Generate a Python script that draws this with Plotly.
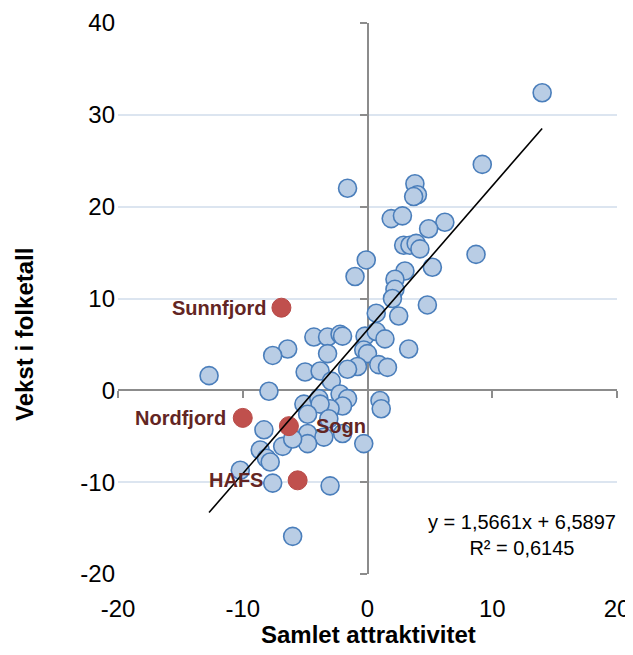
import plotly.graph_objects as go

# ---- data ----
blue_x = [14.0, 9.2, -1.6, 3.8, 4.0, 3.7, 1.9, 2.8, 6.2, 4.9, 2.9, 3.4, 3.9, 4.2, 8.7, 5.2,
          -0.1, -1.0, 3.0, 2.2, 2.2, 2.0, 4.8, 2.5, 0.7, -0.2, 0.7, 1.4, 3.3, -0.3, 0.0, -0.8,
          0.9, 1.6, -4.3, -3.2, -2.2, -2.0, -3.2, -6.4, -7.6, -5.0, -3.8, -2.9, -1.6, -12.7,
          -7.9, -8.3, -8.6, -8.1, -7.8, -6.8, -10.2, -7.6, -3.0, -6.0, -5.1, -3.9, -2.2, -1.6,
          -2.0, -3.0, -3.8, -4.8, -3.1, -4.8, -3.5, -2.0, -4.8, -6.0, -0.3, 1.0, 1.1]
blue_y = [32.4, 24.6, 22.0, 22.5, 21.3, 21.1, 18.7, 19.0, 18.3, 17.6, 15.8, 15.8, 16.0, 15.4, 14.8, 13.4,
          14.2, 12.4, 13.0, 12.1, 11.0, 10.0, 9.3, 8.1, 8.4, 5.9, 6.4, 5.6, 4.5, 4.4, 4.0, 2.6,
          2.8, 2.5, 5.8, 5.8, 6.1, 5.9, 4.0, 4.5, 3.8, 2.0, 2.1, 1.0, 2.3, 1.6,
          -0.1, -4.3, -6.5, -7.4, -7.8, -6.1, -8.7, -10.1, -10.4, -15.9, -1.5, -0.9, -0.4, -0.9,
          -1.7, -2.0, -1.5, -2.6, -3.1, -4.7, -5.1, -4.7, -5.8, -5.3, -5.8, -1.1, -2.0]

red_names = ["Sunnfjord", "Nordfjord", "Sogn", "HAFS"]
red_x = [-6.9, -10.0, -6.3, -5.6]
red_y = [9.0, -3.0, -3.9, -9.8]

slope = 1.5661
intercept = 6.5897
r2 = 0.6145

x_ticks = [-20, -10, 0, 10, 20]
x_tick_labels = ["-20", "-10", "0", "10", "20"]
y_ticks = [-20, -10, 0, 10, 20, 30, 40]
y_tick_labels = ["-20", "-10", "0", "10", "20", "30", "40"]

# ---- styles ----
FONT = "Liberation Sans, Arial, sans-serif"
AXIS_GREY = "#8c8c8c"
GRID = "#dce5f0"
LABEL_RED = "#632523"

# plot area in page pixels (page has an 8px body margin)
BODY = 8
PL, PR, PT, PB = 118, 617, 23, 574
PW, PH = PR - PL, PB - PT
FIG_W, FIG_H = 625, 639

def px(xp):
    return (xp - PL) / PW

def py(yp):
    return (PB - yp) / PH

fig = go.Figure()

fig.add_trace(go.Scatter(
    x=blue_x, y=blue_y, mode="markers",
    marker=dict(size=18, color="#b9cde5", line=dict(color="#4a7ebb", width=1.6)),
    showlegend=False, hoverinfo="skip"))

fig.add_trace(go.Scatter(
    x=red_x, y=red_y, mode="markers",
    marker=dict(size=19, color="#c0504d", line=dict(color="#b84a47", width=1)),
    showlegend=False, hoverinfo="skip"))

all_x = blue_x + red_x
tx = [min(all_x), max(all_x)]
ty = [slope * v + intercept for v in tx]
fig.add_trace(go.Scatter(
    x=tx, y=ty, mode="lines", xaxis="x2", yaxis="y2",
    line=dict(color="black", width=1.6), showlegend=False, hoverinfo="skip"))

# point labels
label_shift = {"Sunnfjord": (-13, "right"), "Nordfjord": (-15, "right"),
               "Sogn": (25, "left"), "HAFS": (-33, "right")}
for n, xv, yv in zip(red_names, red_x, red_y):
    sh, anc = label_shift[n]
    fig.add_annotation(x=xv, y=yv, xref="x", yref="y", text=f"<b>{n}</b>",
                       showarrow=False, xanchor=anc, yanchor="middle", xshift=sh,
                       font=dict(family=FONT, size=20, color=LABEL_RED))

def fmt(v, d):
    return f"{v:.{d}f}".replace(".", ",")

eq = f"y = {fmt(slope, 4)}x + {fmt(intercept, 4)}<br>R² = {fmt(r2, 4)}"
fig.add_annotation(x=px(522), y=py(535), xref="paper", yref="paper",
                   text=eq, showarrow=False, xanchor="center", yanchor="middle", align="center",
                   font=dict(family=FONT, size=20, color="black"))

# axis titles
fig.add_annotation(x=px(368), y=py(634), xref="paper", yref="paper",
                   text="<b>Samlet attraktivitet</b>", showarrow=False,
                   xanchor="center", yanchor="middle",
                   font=dict(family=FONT, size=24, color="black"))
fig.add_annotation(x=px(24), y=py(335), xref="paper", yref="paper",
                   text="<b>Vekst i folketall</b>", showarrow=False, textangle=-90,
                   xanchor="center", yanchor="middle",
                   font=dict(family=FONT, size=24, color="black"))

fig.update_layout(
    width=FIG_W, height=FIG_H,
    margin=dict(l=PL - BODY, r=FIG_W + BODY - PR, t=PT - BODY, b=FIG_H + BODY - PB,
                autoexpand=False),
    paper_bgcolor="white", plot_bgcolor="white",
    font=dict(family=FONT, size=24, color="black"),
    xaxis=dict(range=[-20, 20], tickvals=x_ticks, ticktext=x_tick_labels, showgrid=False,
               zeroline=False, automargin=False,
               showline=False, ticks="", ticklabelstandoff=18,
               tickfont=dict(family=FONT, size=24, color="black")),
    yaxis=dict(range=[-20, 40], tickvals=y_ticks, ticktext=y_tick_labels, showgrid=True,
               gridcolor=GRID, gridwidth=2, automargin=False,
               zeroline=False, showline=False, ticks="", ticklabelstandoff=2,
               tickfont=dict(family=FONT, size=24, color="black")),
    xaxis2=dict(range=[-20, 20], tickvals=x_ticks, overlaying="x", anchor="free",
                position=1 / 3, showgrid=False, zeroline=False, showline=True, automargin=False,
                linecolor=AXIS_GREY, linewidth=2, ticks="outside", ticklen=7, tickwidth=2,
                tickcolor=AXIS_GREY, showticklabels=False, layer="below traces"),
    yaxis2=dict(range=[-20, 40], tickvals=y_ticks, overlaying="y", anchor="free",
                position=0.5, showgrid=False, zeroline=False, showline=True, automargin=False,
                linecolor=AXIS_GREY, linewidth=2, ticks="outside", ticklen=7, tickwidth=2,
                tickcolor=AXIS_GREY, showticklabels=False, layer="below traces"),
)

fig.write_html("out.html")
